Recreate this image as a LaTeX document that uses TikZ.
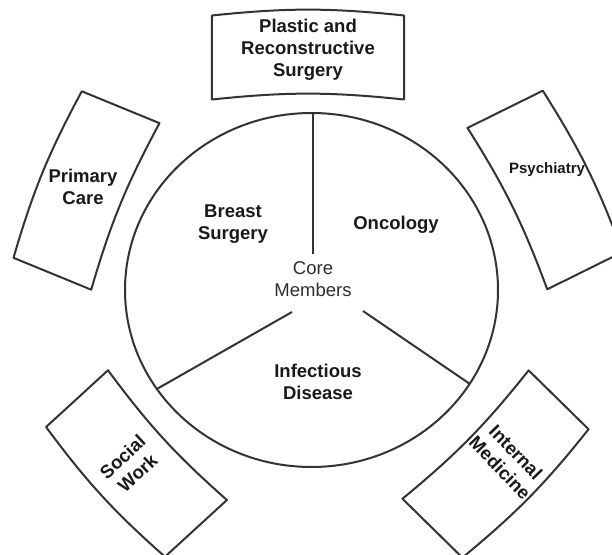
\documentclass[tikz,border=0pt]{standalone}
\usepackage{fontspec}
\setmainfont{Liberation Sans}
\usetikzlibrary{positioning, calc}

\tikzset{
  bw/.store in=\bw, bw=180,
  pics/bentbox/.style={code={
    \draw[ring] (-\bw/2,-42) -- (-\bw/2,42) to[bend left=6] (\bw/2,42)
      -- (\bw/2,-42) to[bend right=6] (-\bw/2,-42) -- cycle;
  }},
}

\begin{document}
\begin{tikzpicture}[
  x=1pt, y=1pt,
  ring/.style = {draw=black!80, line width=2pt, line join=round},
  team/.style = {font=\bfseries\fontsize{18.5}{22}\selectfont, align=center, text=black!90},
  core/.style = {font=\fontsize{18.5}{22}\selectfont, align=center, text=black!82},
]
  \useasboundingbox (-311.5,-264) rectangle (300.5,290);
  \clip (-311.5,-264) rectangle (300.5,290);

  \draw[ring] (0,0) ellipse [x radius=186.5, y radius=177];

  \coordinate (d1) at (1.5,36);    \coordinate (e1) at (1.5,177);
  \coordinate (d2) at (-19.5,-22); \coordinate (e2) at (214:186.5 and 177);
  \coordinate (d3) at (51.5,-21);  \coordinate (e3) at (328:186.5 and 177);
  \draw[ring] (d1) -- (e1);
  \draw[ring] (d2) -- (e2);
  \draw[ring] (d3) -- (e3);

  \node[core] (core)   at (1.5,11)   {Core\\Members};
  \node[team] (breast) at (-78.5,66) {Breast\\Surgery};
  \node[team] (onco)   at (84.5,65)  {Oncology};
  \node[team] (infect) at (6.5,-92)  {Infectious\\Disease};

  \pic[bw=192]                at (-3.5,232.5)  {bentbox};
  \pic[rotate=67.7,  bw=180]  at (-225,99.5)   {bentbox};
  \pic[rotate=-63.7, bw=180]  at (233.5,100)   {bentbox};
  \pic[rotate=132.5, bw=176]  at (-175,-173.5) {bentbox};
  \pic[rotate=-134.5, bw=180] at (184,-174)    {bentbox};

  \node[team] (plastic)  at (-3.5,240)   {Plastic and\\Reconstructive\\Surgery};
  \node[team] (primary)  at (-228.5,103) {Primary\\Care};
  \node[team, font=\bfseries\fontsize{15}{18}\selectfont] (psych) at (235.5,120) {Psychiatry};
  \node[team, rotate=43]  (social)   at (-181.5,-175) {Social\\Work};
  \node[team, rotate=-46] (internal) at (196.5,-170)  {Internal\\Medicine};
\end{tikzpicture}
\end{document}
